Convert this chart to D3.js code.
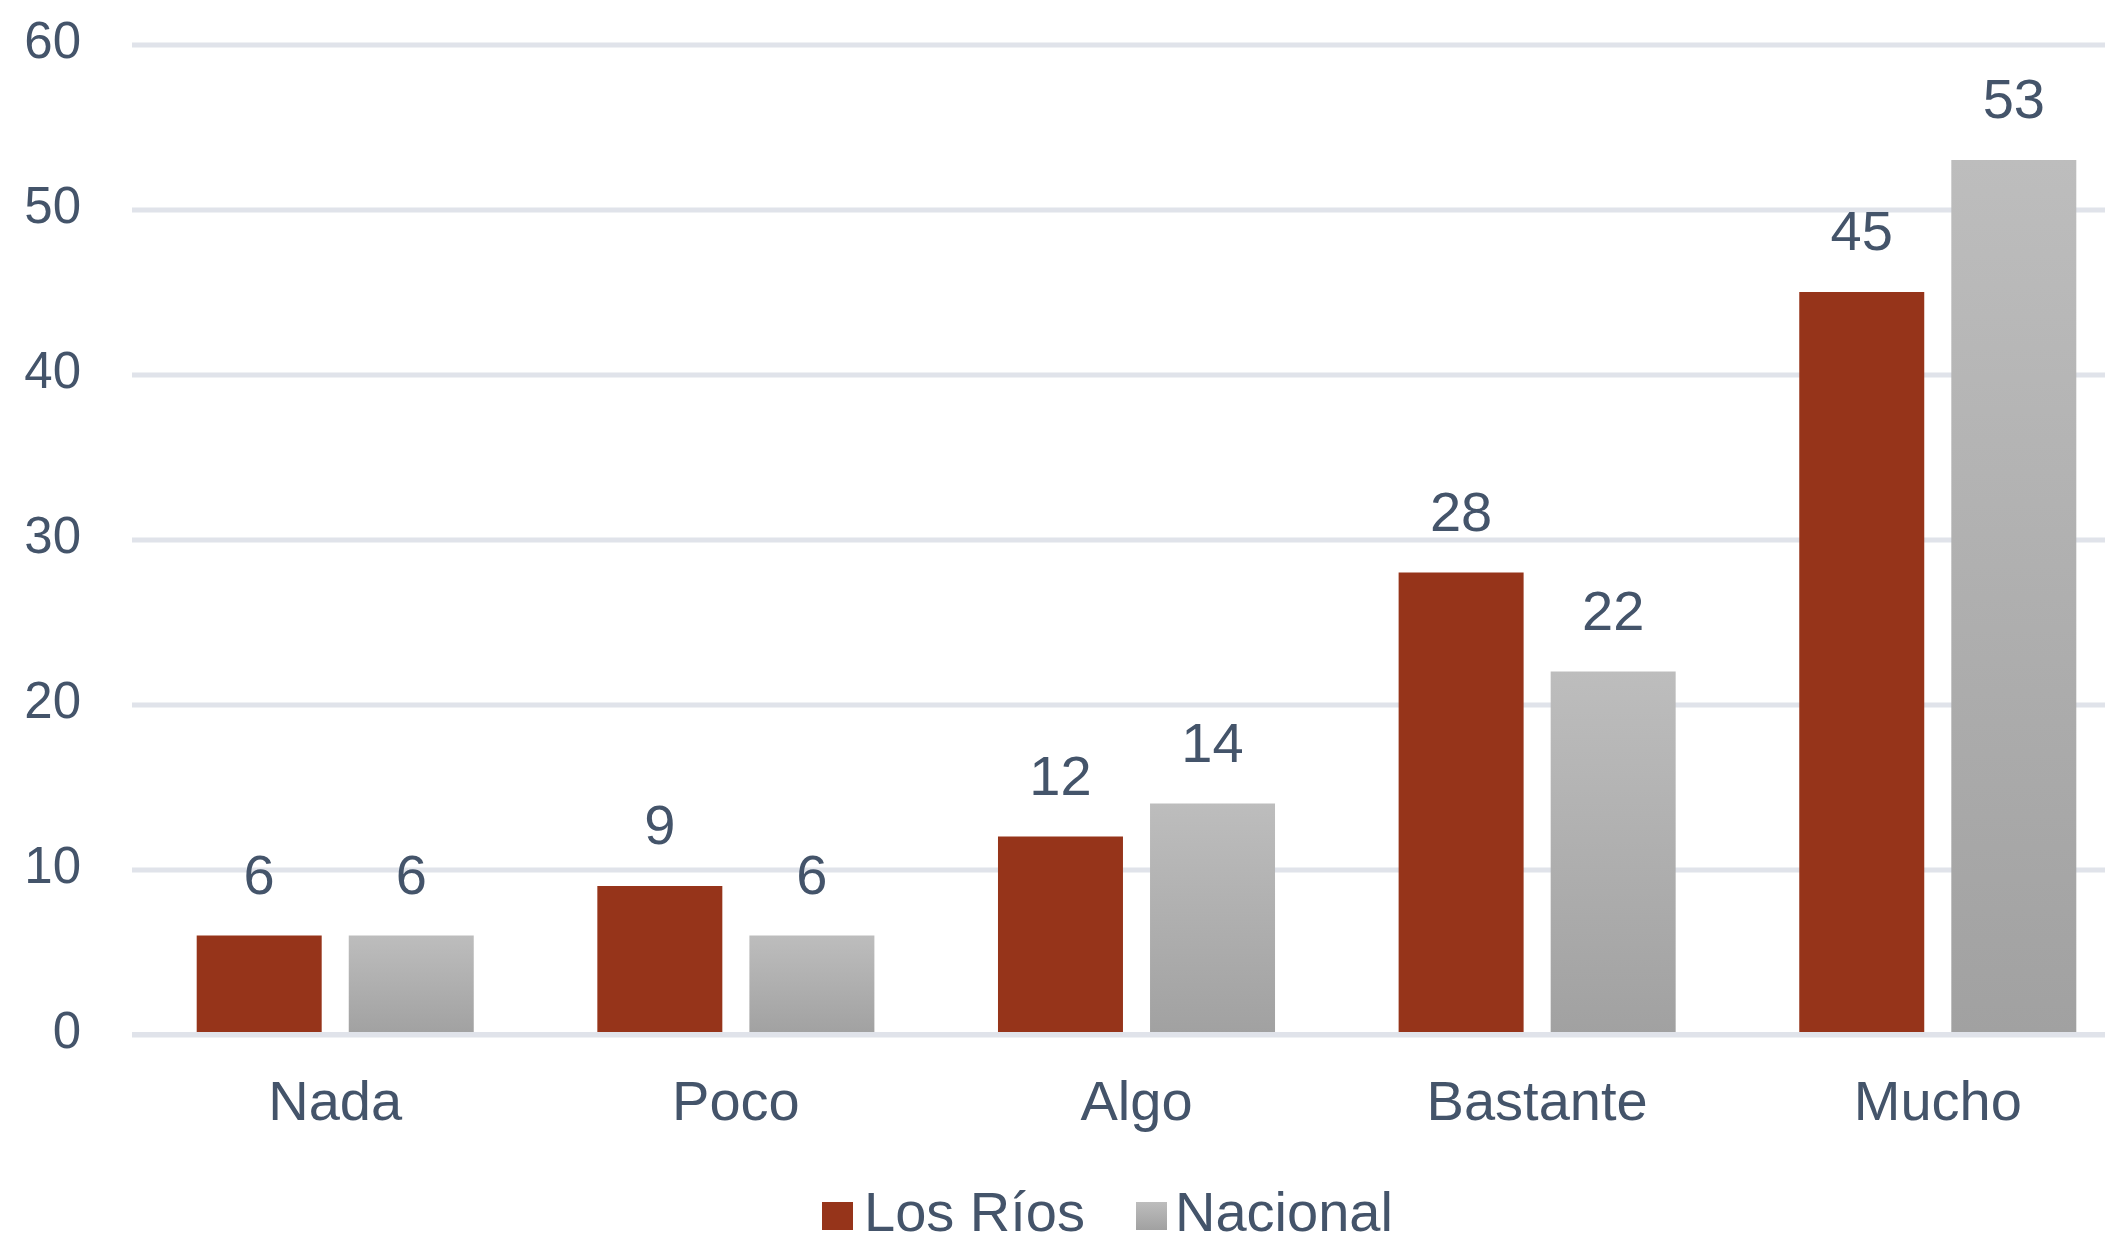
<!DOCTYPE html>
<html>
  <head>
    <meta charset="utf-8">
    <script src="https://d3js.org/d3.v7.min.js"></script>
    <style>
      body { margin: 0; background: #fff; }
      text { font-family: "Liberation Sans", Arial, sans-serif; }
    </style>
  </head>
  <body>
    <div id="chart"></div>
    <script>
      // Data
      const categories = ["Nada", "Poco", "Algo", "Bastante", "Mucho"];
      const seriesNames = ["Los Ríos", "Nacional"];
      const losRios = [6, 9, 12, 28, 45];
      const nacional = [6, 6, 14, 22, 53];
      const yTicks = [0, 10, 20, 30, 40, 50, 60];

      // Sizes
      const width = 2105;
      const height = 1245;
      const textColor = "#44546a";
      const gridColor = "#e0e3ea";
      const red = "#96341a";

      const svg = d3.select("#chart")
        .append("svg")
        .attr("width", width)
        .attr("height", height);

      // gradient for the grey series
      const grad = svg.append("defs")
        .append("linearGradient")
        .attr("id", "greyGrad")
        .attr("x1", 0).attr("y1", 0)
        .attr("x2", 0).attr("y2", 1);
      grad.append("stop").attr("offset", "0%").attr("stop-color", "#bdbdbd");
      grad.append("stop").attr("offset", "100%").attr("stop-color", "#a1a1a1");

      const colors = [red, "url(#greyGrad)"];

      // Scales
      const yScale = d3.scaleLinear()
        .domain([0, 60])
        .range([1034.5, 44.5]);

      const x0 = d3.scaleBand()
        .domain(categories)
        .range([135, 2138])
        .paddingInner(0.3085)
        .paddingOuter(0.154);

      const x1 = d3.scaleBand()
        .domain(seriesNames)
        .range([0, x0.bandwidth()])
        .paddingInner(0.178);

      // Gridlines + y labels
      const gridLeft = 132;
      const yAxis = svg.append("g")
        .attr("transform", `translate(${gridLeft}, 0)`)
        .call(d3.axisLeft(yScale)
          .tickValues(yTicks)
          .tickSize(-(width - gridLeft))
          .tickPadding(51));
      yAxis.select(".domain").remove();
      yAxis.selectAll("line")
        .attr("stroke", gridColor)
        .attr("stroke-width", 5);
      yAxis.selectAll("text")
        .attr("dy", "0.25em")
        .style("font-size", "51px")
        .style("fill", textColor);

      // Bars
      const rows = categories.map((c, i) => ({
        cat: c,
        values: [
          { name: seriesNames[0], value: losRios[i] },
          { name: seriesNames[1], value: nacional[i] }
        ]
      }));

      const groups = svg.append("g")
        .selectAll("g")
        .data(rows)
        .join("g")
        .attr("transform", d => `translate(${x0(d.cat)}, 0)`);

      groups.selectAll("rect")
        .data(d => d.values)
        .join("rect")
        .attr("x", d => x1(d.name))
        .attr("y", d => yScale(d.value))
        .attr("width", x1.bandwidth())
        .attr("height", d => yScale(0) - yScale(d.value))
        .attr("fill", (d, i) => colors[i]);

      // Value labels
      groups.selectAll("text.val")
        .data(d => d.values)
        .join("text")
        .attr("class", "val")
        .attr("x", d => x1(d.name) + x1.bandwidth() / 2)
        .attr("y", d => yScale(d.value) - 42)
        .attr("text-anchor", "middle")
        .style("font-size", "56px")
        .style("fill", textColor)
        .text(d => d.value);

      // zero line drawn above bars
      svg.append("line")
        .attr("x1", gridLeft)
        .attr("x2", width)
        .attr("y1", yScale(0))
        .attr("y2", yScale(0))
        .attr("stroke", gridColor)
        .attr("stroke-width", 5);

      // Category labels
      const xAxis = svg.append("g")
        .attr("transform", `translate(0, ${yScale(0)})`)
        .call(d3.axisBottom(x0).tickSize(0));
      xAxis.select(".domain").remove();
      xAxis.selectAll("text")
        .attr("y", 85.5)
        .attr("dy", 0)
        .style("font-size", "56px")
        .style("fill", textColor);

      // Legend
      const legendX = [822, 1136];
      const legend = svg.append("g")
        .selectAll("g")
        .data(seriesNames)
        .join("g")
        .attr("transform", (d, i) => `translate(${legendX[i]}, 1202)`);

      legend.append("rect")
        .attr("width", 31)
        .attr("height", 28)
        .attr("fill", (d, i) => colors[i]);

      legend.append("text")
        .attr("x", (d, i) => i === 0 ? 42 : 39)
        .attr("y", 29)
        .style("font-size", "56px")
        .style("fill", textColor)
        .text(d => d);
    </script>
  </body>
</html>
